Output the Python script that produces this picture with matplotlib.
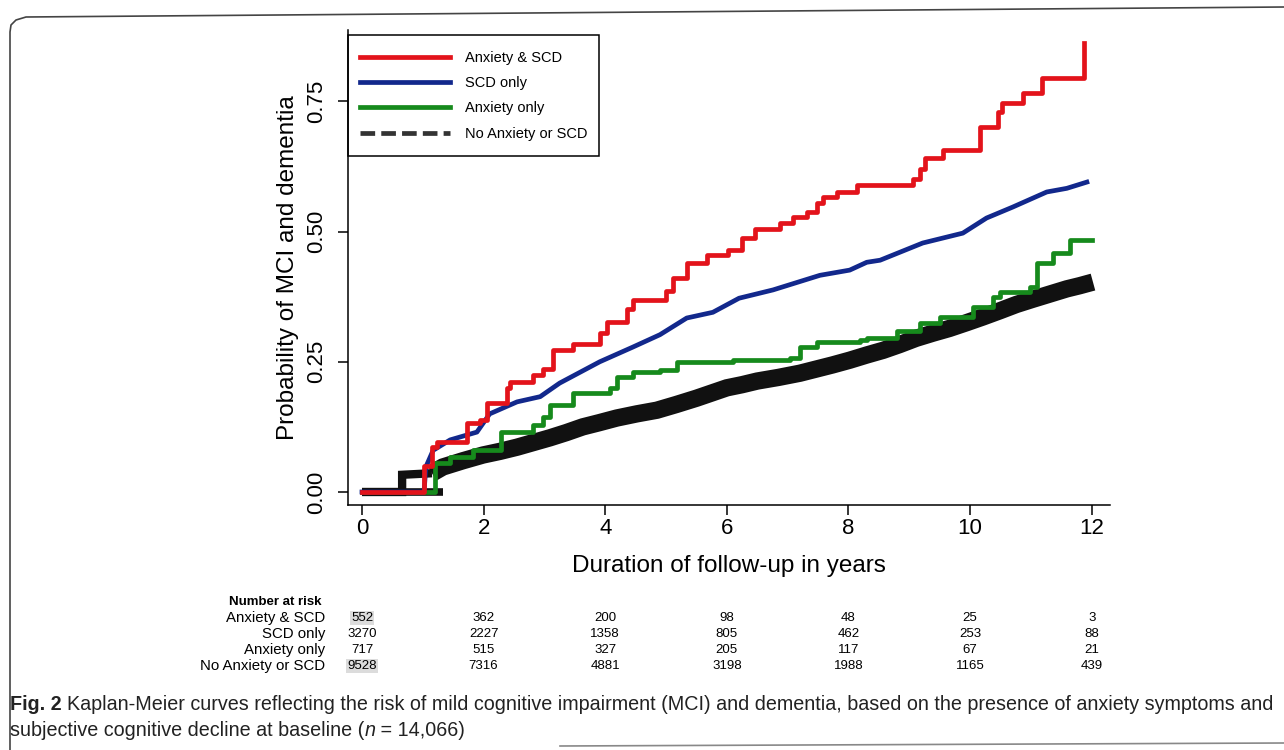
import matplotlib
matplotlib.use("Agg")
import matplotlib.pyplot as plt
import matplotlib.transforms as mtransforms
from matplotlib.lines import Line2D
from matplotlib.patches import Rectangle

plt.rcParams["font.family"] = ["Liberation Sans", "DejaVu Sans"]

# ---- data (years, cumulative probability) ----
RED_T = [0, 1.02, 1.15, 1.23, 1.73, 1.94, 2.05, 2.38, 2.43, 2.81, 2.98, 3.14, 3.47,
         3.91, 4.03, 4.36, 4.45, 5.0, 5.11, 5.34, 5.67, 6.02, 6.25, 6.46, 6.87,
         7.09, 7.32, 7.48, 7.58, 7.81, 8.14, 9.06, 9.17, 9.26, 9.55, 10.16, 10.46,
         10.52, 10.87, 11.18, 11.87]
RED_P = [0, 0.05, 0.086, 0.096, 0.132, 0.138, 0.17, 0.20, 0.211, 0.224, 0.237, 0.272,
         0.285, 0.305, 0.327, 0.352, 0.368, 0.385, 0.41, 0.44, 0.455, 0.465, 0.487,
         0.505, 0.516, 0.528, 0.537, 0.555, 0.566, 0.576, 0.589, 0.60, 0.62, 0.641,
         0.656, 0.70, 0.73, 0.746, 0.766, 0.795, 0.862]

BLUE_T = [0, 1.02, 1.05, 1.17, 1.45, 1.89, 2.1, 2.55, 2.93, 3.25, 3.91, 4.45, 4.9,
          5.34, 5.77, 6.2, 6.76, 7.09, 7.53, 8.02, 8.3, 8.52, 9.22, 9.88, 10.27,
          10.7, 11.26, 11.59, 11.92]
BLUE_P = [0, 0.0, 0.048, 0.08, 0.10, 0.115, 0.15, 0.173, 0.183, 0.209, 0.25, 0.278,
          0.302, 0.334, 0.345, 0.372, 0.388, 0.40, 0.416, 0.426, 0.441, 0.445, 0.478,
          0.497, 0.526, 0.547, 0.576, 0.583, 0.595]

GREEN_T = [0, 1.2, 1.45, 1.83, 2.28, 2.81, 2.98, 3.09, 3.47, 4.08, 4.19, 4.45, 4.9,
           5.18, 6.1, 7.04, 7.2, 7.48, 8.19, 8.3, 8.8, 9.17, 9.5, 10.04, 10.37,
           10.49, 10.98, 11.1, 11.36, 11.64, 12.0]
GREEN_P = [0, 0.055, 0.068, 0.08, 0.115, 0.128, 0.144, 0.167, 0.19, 0.20, 0.221, 0.23,
           0.234, 0.25, 0.253, 0.257, 0.278, 0.288, 0.292, 0.296, 0.31, 0.324, 0.336,
           0.355, 0.374, 0.384, 0.393, 0.44, 0.458, 0.484, 0.484]

BLACK_T = [0, 0.66, 0.66, 1.15, 1.33, 1.66, 1.99, 2.27, 2.55, 2.82, 3.09, 3.36, 3.63,
           3.9, 4.19, 4.52, 4.85, 5.17, 5.5, 5.75, 6.0, 6.25, 6.5, 6.85, 7.2, 7.47,
           7.74, 8.02, 8.3, 8.57, 8.84, 9.11, 9.39, 9.66, 9.94, 10.21, 10.49, 10.76,
           11.03, 11.31, 11.59, 11.8, 12.02]
BLACK_P = [0, 0, 0.033, 0.036, 0.048, 0.06, 0.071, 0.078, 0.086, 0.095, 0.104, 0.114,
           0.125, 0.133, 0.142, 0.15, 0.157, 0.168, 0.18, 0.19, 0.20, 0.206, 0.213,
           0.22, 0.228, 0.236, 0.244, 0.253, 0.263, 0.272, 0.283, 0.295, 0.305,
           0.314, 0.325, 0.336, 0.348, 0.36, 0.37, 0.38, 0.39, 0.396, 0.403]

GROUPS = ["Anxiety & SCD", "SCD only", "Anxiety only", "No Anxiety or SCD"]
COLORS = ["#e3131b", "#12288c", "#168a1c", "#111111"]

RISK_TIMES = [0, 2, 4, 6, 8, 10, 12]
RISK = {
    "Anxiety & SCD": [552, 362, 200, 98, 48, 25, 3],
    "SCD only": [3270, 2227, 1358, 805, 462, 253, 88],
    "Anxiety only": [717, 515, 327, 205, 117, 67, 21],
    "No Anxiety or SCD": [9528, 7316, 4881, 3198, 1988, 1165, 439],
}

W, H = 1284, 750
fig = plt.figure(figsize=(W / 100, H / 100), dpi=100)


def fx(px):
    return px / W


def fy(py):
    return 1 - py / H


ax = fig.add_axes([fx(348), fy(505), fx(1110) - fx(348), fy(30) - fy(505)])

# black reference group: early flat part stays at zero, then a thick jagged band
ax.plot([0, 1.33], [0, 0], color=COLORS[3], lw=5.5, solid_capstyle="butt", zorder=3)
ax.plot(BLACK_T[:4], BLACK_P[:4], color=COLORS[3], lw=6, solid_capstyle="butt",
        solid_joinstyle="miter", zorder=3)
ax.plot(BLACK_T[3:], BLACK_P[3:], color=COLORS[3], lw=12.5, solid_capstyle="butt",
        solid_joinstyle="miter", zorder=3)
ax.plot(GREEN_T, GREEN_P, drawstyle="steps-post", color=COLORS[2], lw=3.4, zorder=4)
ax.plot(BLUE_T, BLUE_P, color=COLORS[1], lw=3.4, zorder=4)
ax.plot(RED_T, RED_P, drawstyle="steps-post", color=COLORS[0], lw=3.4, zorder=5)

ax.set_xlim(-0.23, 12.3)
ax.set_ylim(-0.025, 0.887)
ax.set_xticks(RISK_TIMES)
ax.set_yticks([0, 0.25, 0.5, 0.75])
ax.set_yticklabels(["0.00", "0.25", "0.50", "0.75"], rotation=90, va="center")
ax.tick_params(axis="both", labelsize=16, length=7, width=1.1, direction="out")
ax.tick_params(axis="y", pad=8)
ax.tick_params(axis="x", pad=2)
for s in ("top", "right"):
    ax.spines[s].set_visible(False)
for s in ("left", "bottom"):
    ax.spines[s].set_linewidth(1.1)
ax.set_xlabel("Duration of follow-up in years", fontsize=17.5, labelpad=12)
ax.set_ylabel("Probability of MCI and dementia", fontsize=17.5, labelpad=5)

handles = [Line2D([], [], color=c, lw=3.4) for c in COLORS[:3]]
handles.append(Line2D([], [], color="#333333", lw=3.4, linestyle=(0, (3.1, 1.3))))
leg = ax.legend(handles, GROUPS, loc="upper left",
                bbox_to_anchor=(fx(349), fy(40)), bbox_transform=fig.transFigure,
                fontsize=10.5, frameon=False, handlelength=6.2, handletextpad=1.0,
                labelspacing=0.77, borderpad=0.75, borderaxespad=0)
fig.add_artist(Rectangle((fx(348), fy(156)), fx(599) - fx(348), fy(35) - fy(156),
                         transform=fig.transFigure, fill=False, ec="black", lw=1.1))

# ---- number at risk table ----
blend = mtransforms.blended_transform_factory(ax.transData, fig.transFigure)
fig.text(fx(322), fy(602), "Number at risk", ha="right", va="center",
         fontsize=9.5, fontweight="bold")
row_y = [618, 634, 650, 666]
for g, py in zip(GROUPS, row_y):
    fig.text(fx(325), fy(py), g, ha="right", va="center", fontsize=10.8)
    for t, n in zip(RISK_TIMES, RISK[g]):
        kw = {}
        if t == 0 and g in ("Anxiety & SCD", "No Anxiety or SCD"):
            kw["bbox"] = dict(boxstyle="square,pad=0.1", fc="#dcdcdc", ec="none")
        ax.text(t, fy(py), str(n), transform=blend, ha="center", va="center",
                fontsize=9.5, **kw)

# ---- caption ----
fig.canvas.draw()
renderer = fig.canvas.get_renderer()


def text_runs(x_px, y_px, parts):
    x = x_px
    for s, kw in parts:
        t = fig.text(fx(x), fy(y_px), s, ha="left", va="center", **kw)
        bb = t.get_window_extent(renderer=renderer)
        x += bb.width


cap = dict(fontsize=14.25, color="#222222")
text_runs(10, 705, [
    ("Fig. 2 ", dict(cap, fontweight="bold")),
    ("Kaplan-Meier curves reflecting the risk of mild cognitive impairment (MCI) "
     "and dementia, based on the presence of anxiety symptoms and", cap),
])
text_runs(10, 731, [
    ("subjective cognitive decline at baseline (", cap),
    ("n", dict(cap, style="italic")),
    (" = 14,066)", cap),
])

# ---- page frame ----
fig.add_artist(Line2D([fx(1284), fx(26), fx(16), fx(11), fx(10), fx(10)],
                      [fy(7), fy(17), fy(20), fy(25), fy(32), fy(750)],
                      transform=fig.transFigure, color="#444444", lw=1.2))
fig.add_artist(Line2D([fx(560), fx(1284)], [fy(746), fy(743)],
                      transform=fig.transFigure, color="#888888", lw=1.2))

fig.savefig("out.png", dpi=100)
